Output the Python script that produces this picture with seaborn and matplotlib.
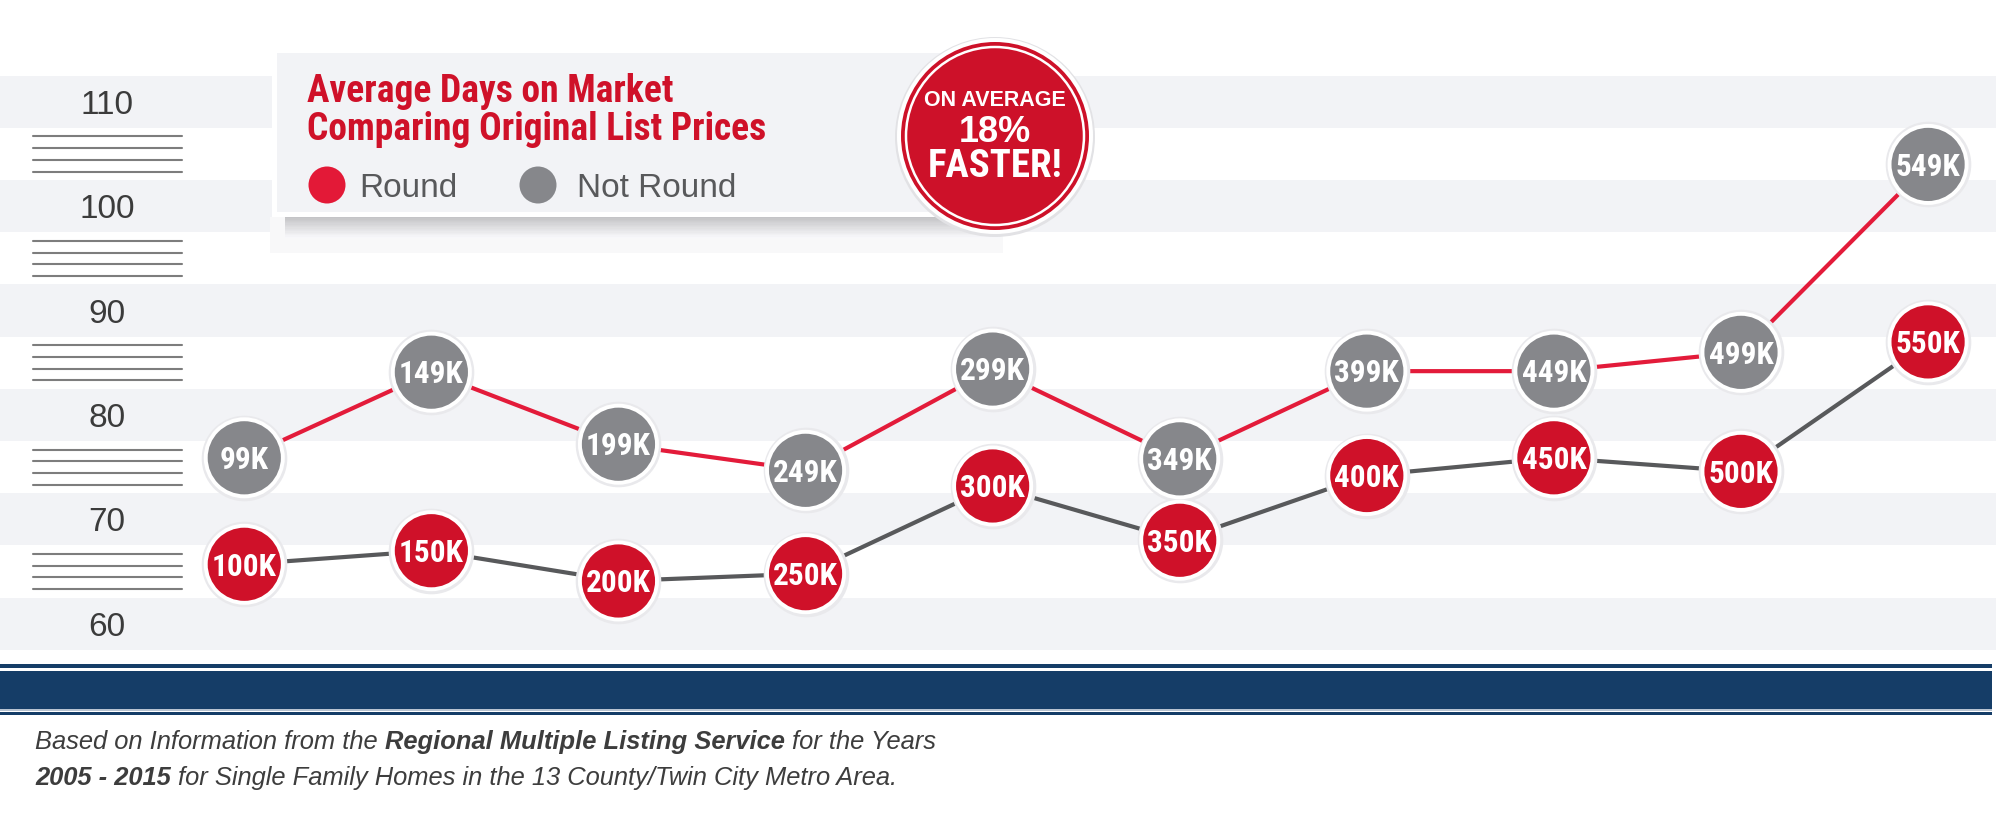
import matplotlib
matplotlib.use("Agg")
import matplotlib.pyplot as plt
import pandas as pd
import seaborn as sns
from matplotlib import font_manager
from matplotlib.patches import Rectangle, Circle

# --- data ---
price_index = list(range(10))
round_labels = ["100K", "150K", "200K", "250K", "300K", "350K", "400K", "450K", "500K", "550K"]
round_days = [65.7, 67.0, 64.1, 64.8, 73.2, 68.0, 74.2, 75.9, 74.6, 87.0]
not_round_labels = ["99K", "149K", "199K", "249K", "299K", "349K", "399K", "449K", "499K", "549K"]
not_round_days = [75.9, 84.1, 77.2, 74.7, 84.4, 75.8, 84.2, 84.2, 86.0, 104.0]
y_ticks = [60, 70, 80, 90, 100, 110]

title_lines = ["Average Days on Market", "Comparing Original List Prices"]
legend_names = ["Round", "Not Round"]
badge_lines = ["ON AVERAGE", "18%", "FASTER!"]
footnote_lines = [
    [("Based on Information from the", "normal"), ("Regional Multiple Listing Service", "bold"), ("for the Years", "normal")],
    [("2005 - 2015", "bold"), ("for Single Family Homes in the 13 County/Twin City Metro Area.", "normal")],
]

RED = "#cf1129"
RED_LINE = "#e31b3a"
GRAY = "#86878b"
GRAY_LINE = "#58595b"
BAND = "#f2f3f6"
NAVY = "#153d67"
TEXT = "#3d3d3d"

W, H = 1996, 834

installed = {f.name for f in font_manager.fontManager.ttflist}


def pick(*names):
    for n in names:
        if n in installed:
            return n
    return None


SANS = pick("Liberation Sans", "Arimo", "Roboto", "DejaVu Sans") or "DejaVu Sans"
NARROW = pick("Liberation Sans Narrow", "Roboto Condensed", "Open Sans Condensed", "Arial Narrow")
narrow_scale = 1.0
if NARROW is None:
    NARROW = SANS
    narrow_scale = 0.82

sns.set_theme(style="white")
plt.rcParams["font.family"] = [SANS, "DejaVu Sans"]


def fx(px):
    return px / W


def fy(py):
    return 1 - py / H


fig = plt.figure(figsize=(W / 100, H / 100), dpi=100)
fig.patch.set_facecolor("white")
ax = fig.add_axes([0, fy(650), 1, 650 / H])
ax.set_facecolor("white")
ax.set_xlim(-1.3057, 9.363)
ax.set_ylim(57.49, 119.75)

# striped background
for v in y_ticks:
    ax.axhspan(v - 2.5, v + 2.5, color=BAND, lw=0, zorder=0)
for v in y_ticks[:-1]:
    mid = v + 5
    for off in [1.68, 0.56, -0.56, -1.68]:
        ax.axhline(mid + off, xmin=fx(33), xmax=fx(182), color="#7d7d7d", lw=1.5, zorder=1)

df = pd.DataFrame({
    "idx": price_index + price_index,
    "days": round_days + not_round_days,
    "group": ["Round"] * len(round_days) + ["Not Round"] * len(not_round_days),
    "label": round_labels + not_round_labels,
})

# lines: the round points are joined in gray, the not-round ones in red
sns.lineplot(data=df, x="idx", y="days", hue="group",
             palette={"Round": GRAY_LINE, "Not Round": RED_LINE},
             lw=3, legend=False, ax=ax, zorder=2, sort=False)
sns.scatterplot(data=df, x="idx", y="days", color="#e9e9ec", s=3800,
                linewidth=0, legend=False, ax=ax, zorder=3)
sns.scatterplot(data=df, x="idx", y="days", hue="group",
                palette={"Round": RED, "Not Round": GRAY}, s=3080,
                edgecolor="white", linewidth=2.8, legend=False, ax=ax, zorder=4)

fs_lab = 22.5 * narrow_scale
for _, r in df.iterrows():
    ax.annotate(r["label"], (r["idx"], r["days"]), xytext=(0, -0.36 * fs_lab),
                textcoords="offset points", ha="center", va="baseline",
                color="white", fontsize=fs_lab, fontweight="bold",
                family=[NARROW, "DejaVu Sans"], zorder=5)

ax.set_yticks(y_ticks)
ax.set_yticklabels([str(v) for v in y_ticks])
ax.tick_params(axis="y", length=0, pad=-77, labelsize=24, labelcolor="#3b3b3b")
for lbl in ax.get_yticklabels():
    lbl.set_ha("center")
ax.set_xticks([])
ax.set_xlabel("")
ax.set_ylabel("")
for s in ax.spines.values():
    s.set_visible(False)


def rect_px(x0, y0, x1, y1, color, z=10, alpha=1.0):
    fig.add_artist(Rectangle((fx(x0), fy(y1)), (x1 - x0) / W, (y1 - y0) / H,
                             transform=fig.transFigure, facecolor=color,
                             edgecolor="none", zorder=z, alpha=alpha))


def circle_px(cx, cy, r, z=20, **kw):
    fig.add_artist(Circle((cx / 100, (H - cy) / 100), r / 100,
                          transform=fig.dpi_scale_trans, zorder=z, **kw))


# legend card with soft shadow
rect_px(270, 217, 1003, 253, "#f8f8f9", z=10)
steps = 16
for i in range(steps):
    shade = 0.77 + 0.2 * i / (steps - 1)
    rect_px(285, 217 + i * 1.3, 1000, 217 + (i + 1) * 1.3,
            (shade, shade, shade + 0.01), z=11)
rect_px(272, 48, 985, 217, "white", z=12)
rect_px(277, 53, 985, 212, BAND, z=13)

fs_title = 27 * narrow_scale
for txt, base in zip(title_lines, [102, 140]):
    fig.text(fx(307), fy(base), txt, color=RED, fontsize=fs_title, fontweight="bold",
             family=[NARROW, "DejaVu Sans"], va="baseline", ha="left", zorder=14)

legend_dots = [(327, "#e31937"), (538, GRAY)]
legend_text_x = [359, 577]
for (cx, col), tx, name in zip(legend_dots, legend_text_x, legend_names):
    circle_px(cx, 185, 18.5, z=14, facecolor=col, edgecolor="none")
    fig.text(fx(tx), fy(197), name, color="#58595b", fontsize=24,
             va="baseline", ha="left", zorder=14)

# badge
circle_px(995, 137, 100, z=20, facecolor="#e2e2e5", edgecolor="none")
circle_px(995, 136, 98, z=21, facecolor="white", edgecolor="none")
circle_px(995, 136, 94, z=22, facecolor="#cd1129", edgecolor="none")
circle_px(995, 136, 89, z=23, facecolor="none", edgecolor="white", lw=1.8)
badge_style = [
    (106, 15.5, "bold", SANS),
    (142, 26, "bold", SANS),
    (177, 28 * narrow_scale, "bold", NARROW),
]
for txt, (base, size, wt, fam) in zip(badge_lines, badge_style):
    fig.text(fx(995), fy(base), txt, color="white", fontsize=size, fontweight=wt,
             family=[fam, "DejaVu Sans"], ha="center", va="baseline", zorder=24)

# navy rule
rect_px(0, 664, 1992, 668, NAVY, z=10)
rect_px(0, 671, 1992, 709, NAVY, z=10)
rect_px(0, 709, 1992, 710.5, "#b7c3d1", z=10)
rect_px(0, 712, 1992, 714.5, NAVY, z=10)

# footnote, mixed italic / bold italic runs
fig.canvas.draw()
renderer = fig.canvas.get_renderer()


def text_width(s, size, weight):
    t = fig.text(0, 0, s, fontsize=size, fontweight=weight, fontstyle="italic")
    w = t.get_window_extent(renderer).width
    t.remove()
    return w


def runs_width(runs, size):
    sp = text_width("n n", size, "normal") - text_width("nn", size, "normal")
    return sum(text_width(s, size, w) for s, w in runs) + sp * (len(runs) - 1), sp


w16, _ = runs_width(footnote_lines[0], 16)
fs_foot = 16 * 901 / w16
for runs, base in zip(footnote_lines, [749, 785]):
    _, sp = runs_width(runs, fs_foot)
    x = 35
    for s, wt in runs:
        fig.text(fx(x), fy(base), s, fontsize=fs_foot, fontweight=wt, fontstyle="italic",
                 color=TEXT, va="baseline", ha="left")
        x += text_width(s, fs_foot, wt) + sp

fig.savefig("out.png", dpi=100, facecolor="white")
